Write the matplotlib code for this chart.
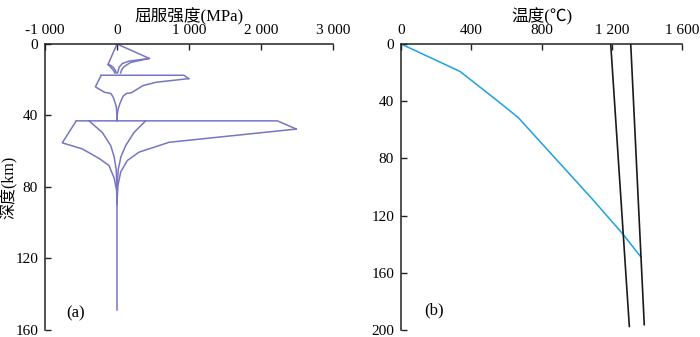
import matplotlib
matplotlib.use("Agg")
import matplotlib.pyplot as plt

plt.rcParams["font.family"] = ["Liberation Serif", "Noto Sans CJK SC", "DejaVu Sans"]

# ---- panel (a): yield strength envelope, points are (MPa, km) ----
uc_right_outer = [(0, 0), (450, 8.1), (167, 9.6), (74, 10.9), (30, 13), (8, 16.2)]
uc_right_inner = [(450, 8.1), (190, 10.3), (97, 12.7), (65, 14.5), (50, 16.2)]
uc_left_outer = [(0, 0), (-125, 11.5), (-80, 13.3), (-45, 15), (-30, 16.2)]
uc_left_inner = [(-125, 11.5), (-90, 11.9), (-48, 13.2), (-20, 15), (-12, 16.2)]

mc_top = [(-220, 17.5), (930, 17.5), (995, 19.4)]
mc_right = [(995, 19.4), (545, 21.4), (360, 23.3), (200, 27.3), (130, 27.7),
            (85, 29.2), (45, 32.8), (18, 36), (5, 39), (0, 43)]
mc_left = [(-220, 17.5), (-300, 24), (-175, 27), (-85, 27.7), (-50, 30),
           (-12, 34.7), (-3, 38), (0, 43)]

lc_top = [(-566, 43), (2228, 43), (2490, 47.6)]
lc_right_outer = [(2490, 47.6), (723, 55), (306, 60.5), (143, 65.2), (51, 71.6),
                  (14, 79), (0, 88)]
lc_left_outer = [(-566, 43), (-760, 55.3), (-482, 58.7), (-250, 64), (-111, 68),
                 (-40, 75), (-5, 82), (0, 90)]
lc_left_inner = [(-389, 43), (-204, 49.5), (-88, 56.8), (-40, 63), (-12, 70), (0, 80)]
lc_right_inner = [(399, 43), (236, 49.5), (121, 56.8), (55, 63), (18, 70), (0, 80)]
mantle_stem = [(0, 80), (0, 148.8)]

strength_ticks = [-1000, 0, 1000, 2000, 3000]
strength_labels = ["-1 000", "0", "1 000", "2 000", "3 000"]
depth_ticks_a = [0, 40, 80, 120, 160]

# ---- panel (b): geotherm and two melting lines ----
geotherm_T = [0, 336, 562, 667, 1086, 1266, 1365]
geotherm_z = [0, 19.2, 41, 51.4, 108, 133.3, 148.8]
solidus1_T = [1194, 1300]
solidus1_z = [0, 197.5]
solidus2_T = [1308, 1385]
solidus2_z = [0, 196.3]

temp_ticks = [0, 400, 800, 1200, 1600]
temp_labels = ["0", "400", "800", "1 200", "1 600"]
depth_ticks_b = [0, 40, 80, 120, 160, 200]


def style(ax):
    ax.invert_yaxis()
    ax.xaxis.tick_top()
    ax.xaxis.set_label_position("top")
    for s in ("right", "bottom"):
        ax.spines[s].set_visible(False)
    for s in ("left", "top"):
        ax.spines[s].set_linewidth(1.1)
        ax.spines[s].set_color("#222222")
    ax.tick_params(direction="in", length=4, width=1, labelsize=11,
                   colors="#222222", labelcolor="black")
    ax.tick_params(axis="x", pad=5)
    ax.tick_params(axis="y", pad=5)


fig = plt.figure(figsize=(7, 3.37), dpi=100)
ax1 = fig.add_axes([0.0643, 0.0208, 0.4114, 0.8487])
ax2 = fig.add_axes([0.5729, 0.0208, 0.4014, 0.8487])

purple = "#7676c2"
for seg in (uc_right_outer, uc_right_inner, uc_left_outer, uc_left_inner,
            mc_top, mc_right, mc_left, lc_top, lc_right_outer, lc_left_outer,
            lc_left_inner, lc_right_inner, mantle_stem):
    ax1.plot([p[0] for p in seg], [p[1] for p in seg], color=purple, lw=1.1)

ax1.set_xlim(-1000, 3000)
ax1.set_ylim(0, 160)
style(ax1)
ax1.set_xticks(strength_ticks)
ax1.set_xticklabels(strength_labels)
ax1.set_yticks(depth_ticks_a)
ax1.set_xlabel("屈服强度(MPa)", fontsize=12, labelpad=2)
ax1.set_ylabel("深度(km)", fontsize=11.5)
ax1.yaxis.set_label_coords(-0.093, 0.5)
ax1.text(-700, 153, "(a)", fontsize=12)

ax2.plot(geotherm_T, geotherm_z, color="#1ba1e2", lw=1.1)
ax2.plot(solidus1_T, solidus1_z, color="#1a1a1a", lw=1.2)
ax2.plot(solidus2_T, solidus2_z, color="#1a1a1a", lw=1.2)
ax2.set_xlim(0, 1600)
ax2.set_ylim(0, 200)
style(ax2)
ax2.set_xticks(temp_ticks)
ax2.set_xticklabels(temp_labels)
ax2.set_yticks(depth_ticks_b)
ax2.set_xlabel("温度(℃)", fontsize=12, labelpad=2)
ax2.text(130, 189, "(b)", fontsize=12)

fig.savefig("out.png", dpi=100)
